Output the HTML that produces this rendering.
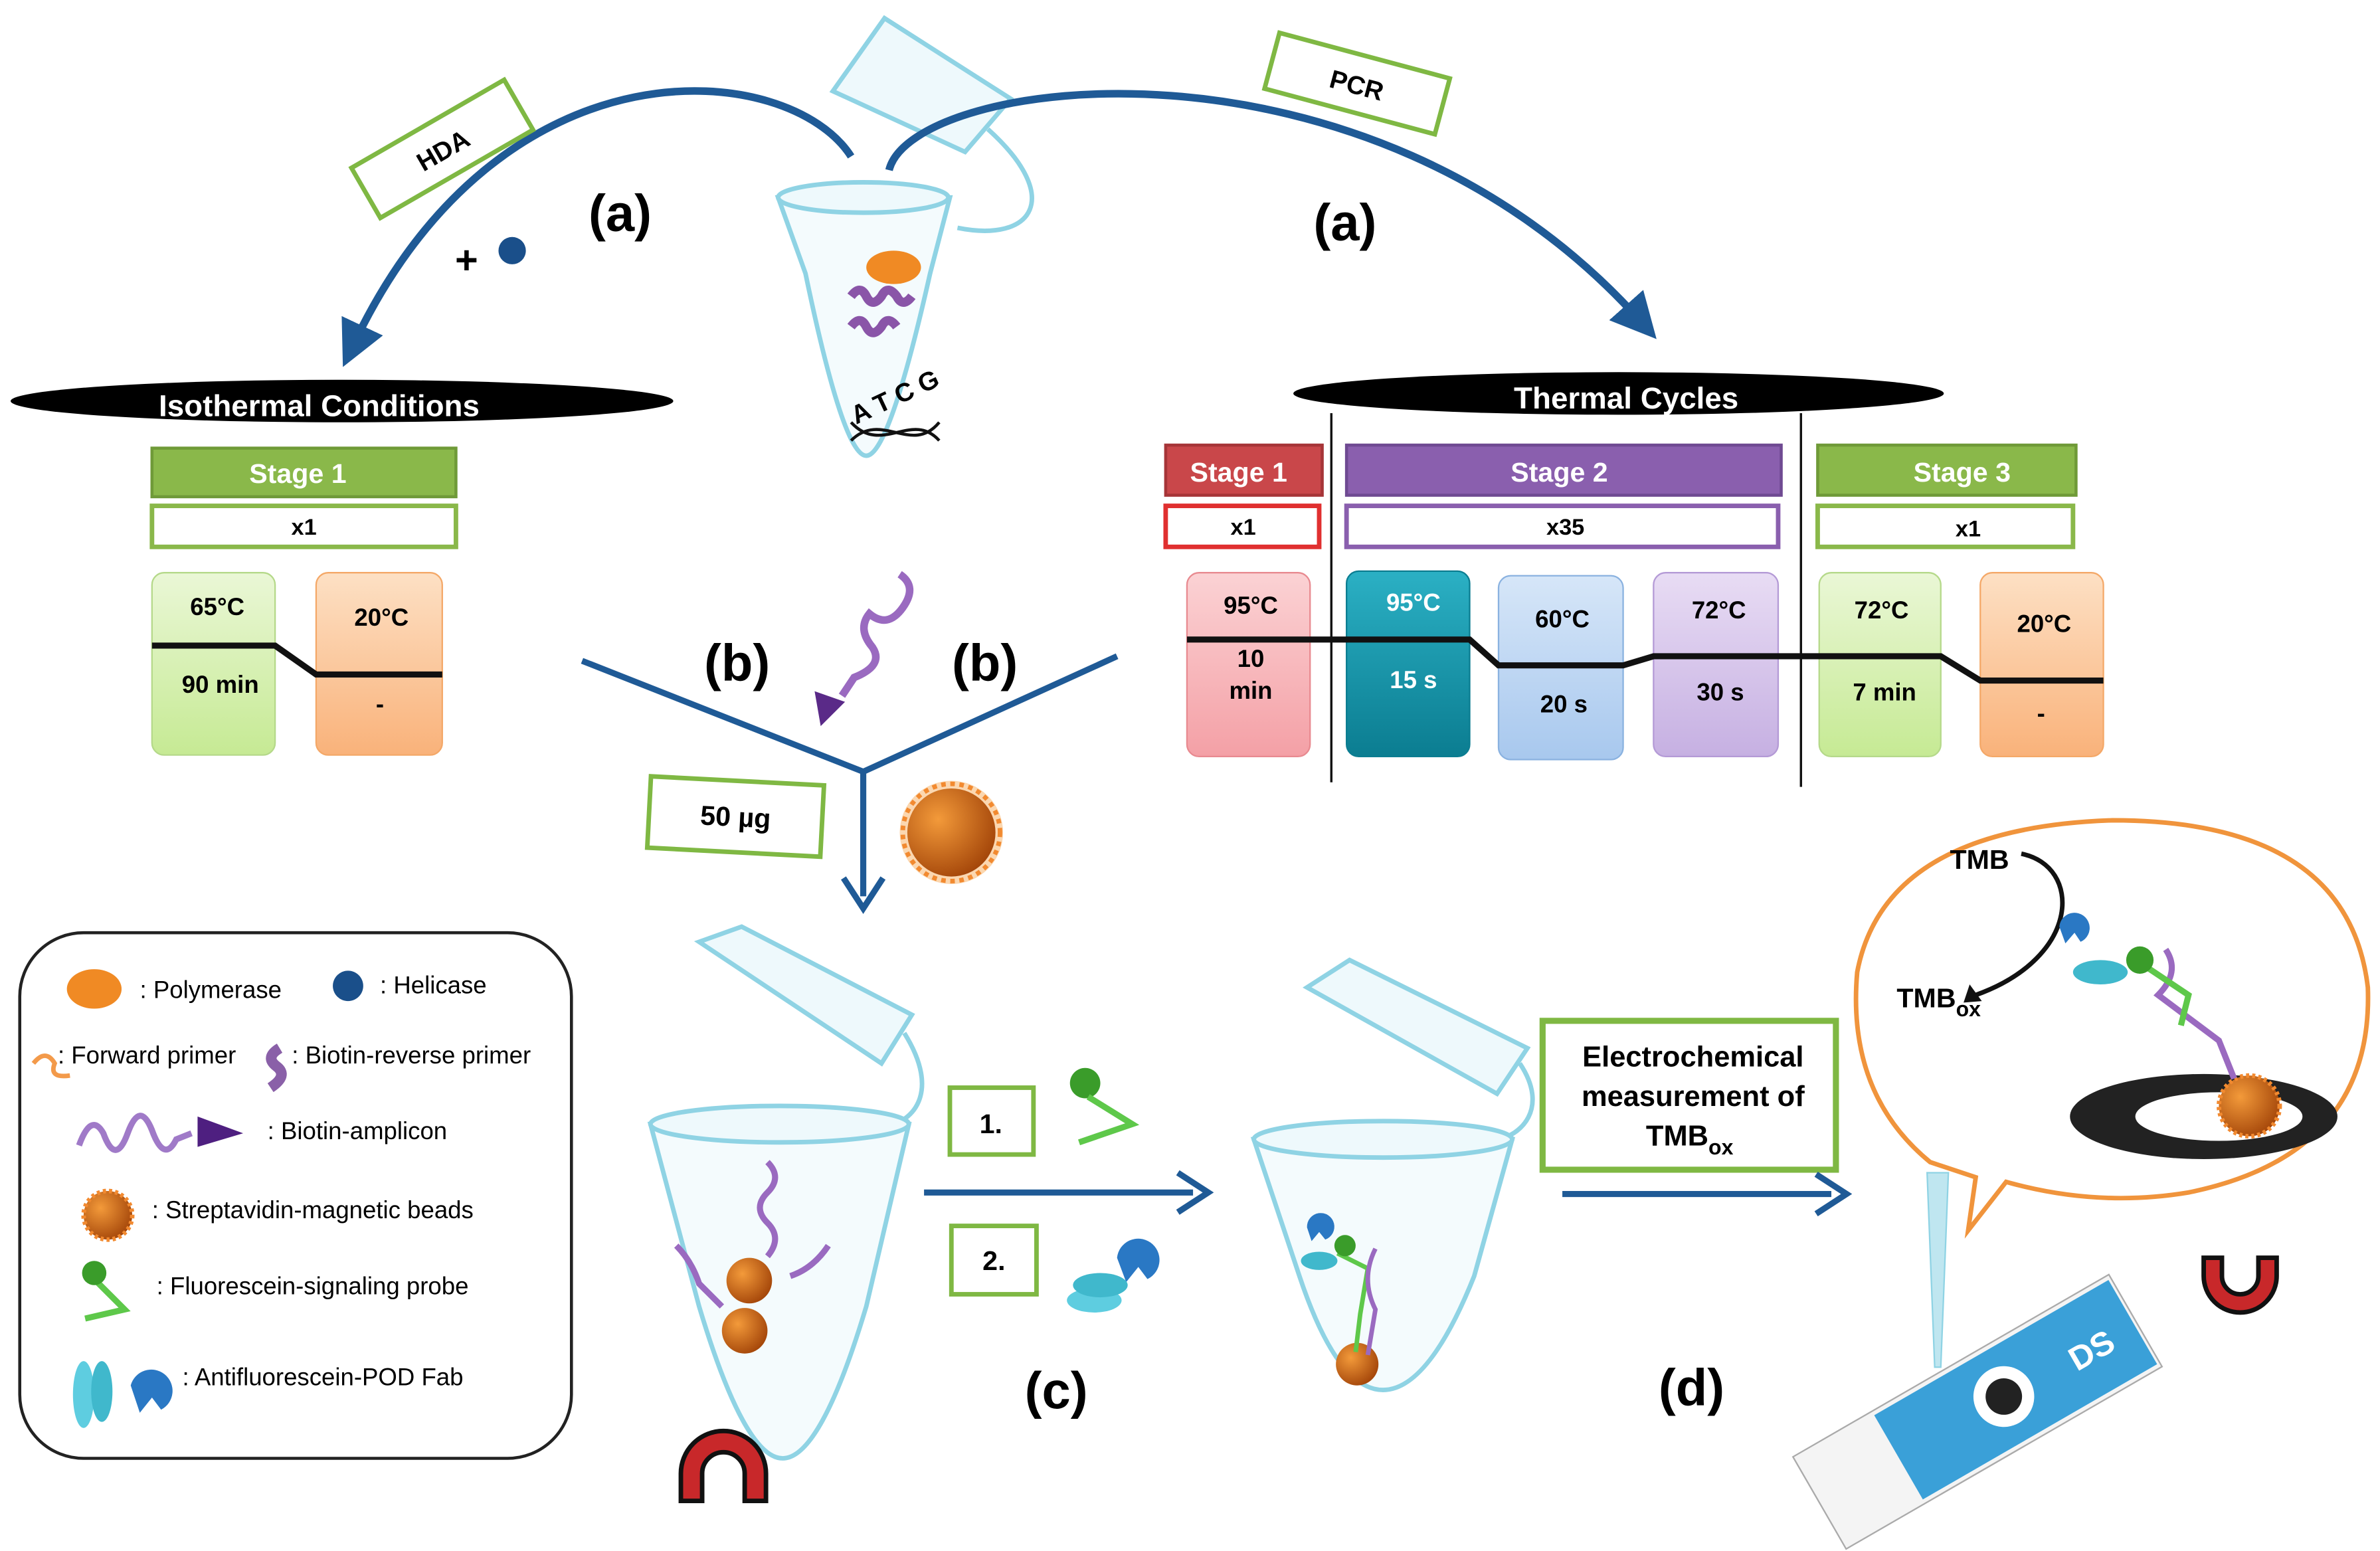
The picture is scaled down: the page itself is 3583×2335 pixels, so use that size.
<!DOCTYPE html>
<html><head><meta charset="utf-8"><style>
html,body{margin:0;padding:0;background:#fff;}
svg{display:block;}
text{font-family:"Liberation Sans",Arial,sans-serif;}
</style></head><body>
<svg width="3583" height="2335" viewBox="0 0 1566 1021" preserveAspectRatio="none" xmlns="http://www.w3.org/2000/svg">
<defs>
<marker id="ah" markerWidth="6" markerHeight="6" refX="3" refY="3" orient="auto" markerUnits="strokeWidth"><path d="M0,0 L6,3 L0,6 z" fill="#1f5a96"/></marker>
<radialGradient id="bead" cx="0.35" cy="0.35" r="0.7"><stop offset="0" stop-color="#f39a3a"/><stop offset="1" stop-color="#a5470a"/></radialGradient>
<linearGradient id="g" x1="0" y1="0" x2="0" y2="1"><stop offset="0" stop-color="#eaf7d6"/><stop offset="1" stop-color="#c6ea94"/></linearGradient>
<linearGradient id="o" x1="0" y1="0" x2="0" y2="1"><stop offset="0" stop-color="#fde0c4"/><stop offset="1" stop-color="#f9b27a"/></linearGradient>
<linearGradient id="p" x1="0" y1="0" x2="0" y2="1"><stop offset="0" stop-color="#fbd2d4"/><stop offset="1" stop-color="#f4a0a6"/></linearGradient>
<linearGradient id="t" x1="0" y1="0" x2="0" y2="1"><stop offset="0" stop-color="#2bb0c4"/><stop offset="1" stop-color="#0b7d91"/></linearGradient>
<linearGradient id="b" x1="0" y1="0" x2="0" y2="1"><stop offset="0" stop-color="#d6e6f8"/><stop offset="1" stop-color="#a8c8ee"/></linearGradient>
<linearGradient id="v" x1="0" y1="0" x2="0" y2="1"><stop offset="0" stop-color="#e8dcf4"/><stop offset="1" stop-color="#c6b0e2"/></linearGradient>
</defs>

<!-- top tube -->
<g fill="none" stroke="#8fd3e4" stroke-width="3">
<path d="M548,60 L582,12 L665,65 L635,100 Z" fill="#eef9fc"/>
<path d="M650,85 C700,130 680,160 630,150"/>
<path d="M512,130 L625,130 L612,180 Q585,300 570,300 Q555,300 530,180 Z" fill="#f4fbfd"/>
<ellipse cx="568" cy="130" rx="56" ry="10" fill="#eef9fc"/>
</g>
<ellipse cx="588" cy="176" rx="18" ry="11" fill="#f08a24"/>
<path d="M560,195 q6,-8 10,0 q4,8 10,0 q4,-8 10,0 q4,8 10,0" stroke="#8a55a8" stroke-width="6" fill="none"/>
<path d="M560,215 q6,-8 10,0 q4,8 10,0 q4,-8 10,0" stroke="#8a55a8" stroke-width="6" fill="none"/>
<text x="555" y="268" font-size="17" font-weight="bold" transform="rotate(-25 585 255)">A T C G</text>
<path d="M560,290 C580,270 600,300 618,278 M560,278 C580,300 600,270 618,290" stroke="#111" stroke-width="2" fill="none"/>

<!-- arcs -->
<path d="M560,103 C520,40 330,20 232,228" stroke="#1f5a96" stroke-width="5" fill="none" marker-end="url(#ah)"/>
<path d="M585,112 C600,50 900,10 1080,212" stroke="#1f5a96" stroke-width="5" fill="none" marker-end="url(#ah)"/>
<g transform="rotate(-30 291 98)"><rect x="233" y="79" width="116" height="38" fill="#fff" stroke="#7fb843" stroke-width="3"/><text x="291" y="105" font-size="17" font-weight="bold" text-anchor="middle">HDA</text></g>
<g transform="rotate(15 893 55)"><rect x="835" y="36" width="116" height="38" fill="#fff" stroke="#7fb843" stroke-width="3"/><text x="893" y="62" font-size="17" font-weight="bold" text-anchor="middle">PCR</text></g>
<text x="408" y="152" font-size="34" font-weight="bold" text-anchor="middle">(a)</text>
<text x="885" y="158" font-size="34" font-weight="bold" text-anchor="middle">(a)</text>
<text x="307" y="180" font-size="26" font-weight="bold" text-anchor="middle">+</text>
<circle cx="337" cy="165" r="9" fill="#1a4f8a"/>

<!-- left conditions -->
<ellipse cx="225" cy="264" rx="218" ry="14" fill="#000"/>
<text x="210" y="274" font-size="20" font-weight="bold" fill="#fff" text-anchor="middle">Isothermal Conditions</text>
<rect x="100" y="295" width="200" height="32" fill="#8ab84a" stroke="#6f9a38" stroke-width="2"/>
<text x="196" y="318" font-size="18" font-weight="bold" fill="#fff" text-anchor="middle">Stage 1</text>
<rect x="100" y="333" width="200" height="27" fill="#fff" stroke="#8ab84a" stroke-width="3"/>
<text x="200" y="352" font-size="15" font-weight="bold" text-anchor="middle">x1</text>
<rect x="100" y="377" width="81" height="120" rx="8" fill="url(#g)" stroke="#b5d98a"/>
<rect x="208" y="377" width="83" height="120" rx="8" fill="url(#o)" stroke="#f4a868"/>
<path d="M100,425 L181,425 L208,444 L291,444" stroke="#111" stroke-width="4" fill="none"/>
<text x="143" y="405" font-size="16" font-weight="bold" text-anchor="middle">65°C</text>
<text x="145" y="456" font-size="16" font-weight="bold" text-anchor="middle">90 min</text>
<text x="251" y="412" font-size="16" font-weight="bold" text-anchor="middle">20°C</text>
<text x="250" y="469" font-size="16" font-weight="bold" text-anchor="middle">-</text>

<!-- right conditions -->
<ellipse cx="1065" cy="259" rx="214" ry="14" fill="#000"/>
<text x="1070" y="269" font-size="20" font-weight="bold" fill="#fff" text-anchor="middle">Thermal Cycles</text>
<line x1="876" y1="272" x2="876" y2="515" stroke="#111" stroke-width="1.5"/>
<line x1="1185" y1="272" x2="1185" y2="518" stroke="#111" stroke-width="1.5"/>
<rect x="767" y="293" width="103" height="33" fill="#c9474a" stroke="#a63538" stroke-width="2"/>
<text x="815" y="317" font-size="18" font-weight="bold" fill="#fff" text-anchor="middle">Stage 1</text>
<rect x="767" y="333" width="101" height="27" fill="#fff" stroke="#e03030" stroke-width="3"/>
<text x="818" y="352" font-size="15" font-weight="bold" text-anchor="middle">x1</text>
<rect x="886" y="293" width="286" height="33" fill="#8a5fae" stroke="#6f4a92" stroke-width="2"/>
<text x="1026" y="317" font-size="18" font-weight="bold" fill="#fff" text-anchor="middle">Stage 2</text>
<rect x="886" y="333" width="284" height="27" fill="#fff" stroke="#8a5fae" stroke-width="3"/>
<text x="1030" y="352" font-size="15" font-weight="bold" text-anchor="middle">x35</text>
<rect x="1196" y="293" width="170" height="33" fill="#8ab84a" stroke="#6f9a38" stroke-width="2"/>
<text x="1291" y="317" font-size="18" font-weight="bold" fill="#fff" text-anchor="middle">Stage 3</text>
<rect x="1196" y="333" width="168" height="27" fill="#fff" stroke="#8ab84a" stroke-width="3"/>
<text x="1295" y="353" font-size="15" font-weight="bold" text-anchor="middle">x1</text>

<rect x="781" y="377" width="81" height="121" rx="8" fill="url(#p)" stroke="#e88a90"/>
<rect x="886" y="376" width="81" height="122" rx="8" fill="url(#t)" stroke="#0b7d91"/>
<rect x="986" y="379" width="82" height="121" rx="8" fill="url(#b)" stroke="#8ab2e0"/>
<rect x="1088" y="377" width="82" height="121" rx="8" fill="url(#v)" stroke="#b49ad6"/>
<rect x="1197" y="377" width="80" height="121" rx="8" fill="url(#g)" stroke="#b5d98a"/>
<rect x="1303" y="377" width="81" height="121" rx="8" fill="url(#o)" stroke="#f4a868"/>
<path d="M781,421 L967,421 L986,438 L1068,438 L1088,432 L1277,432 L1303,448 L1384,448" stroke="#111" stroke-width="4" fill="none"/>
<text x="823" y="404" font-size="16" font-weight="bold" text-anchor="middle">95°C</text>
<text x="823" y="439" font-size="16" font-weight="bold" text-anchor="middle">10</text>
<text x="823" y="460" font-size="16" font-weight="bold" text-anchor="middle">min</text>
<text x="930" y="402" font-size="16" font-weight="bold" fill="#fff" text-anchor="middle">95°C</text>
<text x="930" y="453" font-size="16" font-weight="bold" fill="#fff" text-anchor="middle">15 s</text>
<text x="1028" y="413" font-size="16" font-weight="bold" text-anchor="middle">60°C</text>
<text x="1029" y="469" font-size="16" font-weight="bold" text-anchor="middle">20 s</text>
<text x="1131" y="407" font-size="16" font-weight="bold" text-anchor="middle">72°C</text>
<text x="1132" y="461" font-size="16" font-weight="bold" text-anchor="middle">30 s</text>
<text x="1238" y="407" font-size="16" font-weight="bold" text-anchor="middle">72°C</text>
<text x="1240" y="461" font-size="16" font-weight="bold" text-anchor="middle">7 min</text>
<text x="1345" y="416" font-size="16" font-weight="bold" text-anchor="middle">20°C</text>
<text x="1343" y="475" font-size="16" font-weight="bold" text-anchor="middle">-</text>

<!-- (b) -->
<path d="M383,435 L568,508 L735,432 M568,508 L568,590" stroke="#1f5a96" stroke-width="4" fill="none"/>
<path d="M555,578 L568,598 L581,578" stroke="#1f5a96" stroke-width="4" fill="none"/>
<text x="485" y="448" font-size="34" font-weight="bold" text-anchor="middle">(b)</text>
<text x="648" y="448" font-size="34" font-weight="bold" text-anchor="middle">(b)</text>
<path d="M592,378 q12,8 2,22 q-10,14 -22,4 q-8,10 2,22 q8,12 -12,20 l-8,12" stroke="#9a6ac0" stroke-width="5" fill="none"/>
<path d="M536,455 L556,462 L540,478 Z" fill="#5a2a88"/>
<g transform="rotate(3 484 538)"><rect x="427" y="514" width="114" height="47" fill="#fff" stroke="#7fb843" stroke-width="3"/><text x="484" y="544" font-size="18" font-weight="bold" text-anchor="middle">50 µg</text></g>
<circle cx="626" cy="548" r="34" fill="#fbd7b0"/>
<circle cx="626" cy="548" r="29" fill="url(#bead)"/>
<circle cx="626" cy="548" r="32" fill="none" stroke="#f28a30" stroke-width="3" stroke-dasharray="3 3"/>

<!-- legend -->
<rect x="13" y="614" width="363" height="346" rx="42" fill="#fff" stroke="#222" stroke-width="2"/>
<ellipse cx="62" cy="651" rx="18" ry="13" fill="#f08a24"/>
<text x="92" y="657" font-size="16">: Polymerase</text>
<circle cx="229" cy="649" r="10" fill="#1a4f8a"/>
<text x="250" y="654" font-size="16">: Helicase</text>
<path d="M22,700 q8,-10 14,0 q-4,10 10,8" stroke="#f39a4a" stroke-width="3" fill="none"/>
<text x="38" y="700" font-size="16">: Forward primer</text>
<path d="M184,690 q-10,6 -2,12 q8,6 -4,14" stroke="#8a60a8" stroke-width="7" fill="none"/>
<text x="192" y="700" font-size="16">: Biotin-reverse primer</text>
<path d="M52,754 q8,-22 16,-8 q8,22 16,0 q8,-22 16,-2 q8,22 16,6 l10,-4" stroke="#a07ac8" stroke-width="4" fill="none"/>
<path d="M130,735 L160,746 L130,755 Z" fill="#4e1f80"/>
<text x="176" y="750" font-size="16">: Biotin-amplicon</text>
<circle cx="71" cy="800" r="16" fill="url(#bead)" stroke="#f28a30" stroke-width="3" stroke-dasharray="2 2"/>
<text x="100" y="802" font-size="16">: Streptavidin-magnetic beads</text>
<path d="M64,844 L82,862 L56,868" stroke="#5ec84a" stroke-width="4" fill="none"/>
<circle cx="62" cy="838" r="8" fill="#3a9c2a"/>
<text x="103" y="852" font-size="16">: Fluorescein-signaling probe</text>
<ellipse cx="55" cy="918" rx="7" ry="22" fill="#5ecde0"/>
<ellipse cx="67" cy="916" rx="7" ry="20" fill="#40b8cc"/>
<path d="M86,912 a14,14 0 1 1 20,16 l-6,-8 l-8,10 z" fill="#2a78c4"/>
<text x="120" y="912" font-size="16">: Antifluorescein-POD Fab</text>

<!-- bottom tube 1 -->
<g fill="none" stroke="#8fd3e4" stroke-width="3">
<path d="M460,620 L488,610 L600,668 L580,700 Z" fill="#eef9fc"/>
<path d="M595,680 C620,720 600,740 580,742"/>
<path d="M428,740 L598,740 L570,860 Q540,960 515,960 Q490,960 460,860 Z" fill="#f4fbfd"/>
<ellipse cx="513" cy="740" rx="85" ry="12" fill="#eef9fc"/>
</g>
<circle cx="493" cy="843" r="15" fill="url(#bead)"/>
<circle cx="490" cy="876" r="15" fill="url(#bead)"/>
<path d="M505,765 q10,10 0,20 q-10,10 0,20 q10,10 0,22" stroke="#9a6ac0" stroke-width="4" fill="none"/>
<path d="M445,820 q10,10 15,25 l15,15 M545,820 q-10,15 -25,20" stroke="#9a6ac0" stroke-width="4" fill="none"/>
<path d="M448,970 a28,28 0 0 1 56,0 l0,18 l-14,0 l0,-18 a14,14 0 0 0 -28,0 l0,18 l-14,0 z" fill="#c8282a" stroke="#111" stroke-width="3"/>

<!-- (c) -->
<line x1="608" y1="785" x2="785" y2="785" stroke="#1f5a96" stroke-width="4"/>
<path d="M775,772 L795,785 L775,798" stroke="#1f5a96" stroke-width="4" fill="none"/>
<rect x="625" y="716" width="55" height="44" fill="#fff" stroke="#7fb843" stroke-width="3"/>
<text x="652" y="746" font-size="18" font-weight="bold" text-anchor="middle">1.</text>
<rect x="626" y="807" width="56" height="45" fill="#fff" stroke="#7fb843" stroke-width="3"/>
<text x="654" y="836" font-size="18" font-weight="bold" text-anchor="middle">2.</text>
<circle cx="714" cy="713" r="10" fill="#3a9c2a"/>
<path d="M716,722 L745,740 L710,752" stroke="#5ec84a" stroke-width="4" fill="none"/>
<path d="M735,828 a14,14 0 1 1 20,14 l-6,-8 l-8,10 z" fill="#2a78c4"/>
<ellipse cx="720" cy="856" rx="18" ry="8" fill="#5ecde0"/>
<ellipse cx="724" cy="846" rx="18" ry="8" fill="#40b8cc"/>
<text x="695" y="927" font-size="34" font-weight="bold" text-anchor="middle">(c)</text>

<!-- tube 2 -->
<g fill="none" stroke="#8fd3e4" stroke-width="3">
<path d="M860,650 L888,632 L1005,690 L985,720 Z" fill="#eef9fc"/>
<path d="M1000,700 C1020,730 1000,748 985,750"/>
<path d="M825,750 L995,750 L970,840 Q940,915 910,915 Q880,915 855,840 Z" fill="#f4fbfd"/>
<ellipse cx="910" cy="750" rx="85" ry="12" fill="#eef9fc"/>
</g>
<circle cx="893" cy="898" r="14" fill="url(#bead)"/>
<path d="M880,825 l20,10 l-5,30 l-3,25" stroke="#5ec84a" stroke-width="3" fill="none"/>
<path d="M905,822 q-10,20 0,40 l-5,30" stroke="#9a6ac0" stroke-width="3" fill="none"/>
<circle cx="885" cy="820" r="7" fill="#3a9c2a"/>
<ellipse cx="868" cy="830" rx="12" ry="6" fill="#40b8cc"/>
<path d="M860,808 a9,9 0 1 1 12,8 l-4,-5 l-5,6 z" fill="#2a78c4"/>

<!-- (d) -->
<rect x="1015" y="672" width="193" height="98" fill="#fff" stroke="#7fb843" stroke-width="4"/>
<text x="1114" y="702" font-size="19" font-weight="bold" text-anchor="middle">Electrochemical</text>
<text x="1114" y="728" font-size="19" font-weight="bold" text-anchor="middle">measurement of</text>
<text x="1083" y="754" font-size="19" font-weight="bold">TMB<tspan font-size="14" dy="6">ox</tspan></text>
<line x1="1028" y1="786" x2="1205" y2="786" stroke="#1f5a96" stroke-width="4"/>
<path d="M1195,773 L1215,786 L1195,799" stroke="#1f5a96" stroke-width="4" fill="none"/>
<text x="1113" y="925" font-size="34" font-weight="bold" text-anchor="middle">(d)</text>

<!-- bubble -->
<path d="M1270,765 Q1215,720 1222,640 Q1240,545 1390,540 Q1545,540 1558,650 Q1562,760 1440,785 Q1380,795 1320,778 L1295,810 L1300,775 Z" fill="#fff" stroke="#f0943c" stroke-width="3"/>
<text x="1283" y="572" font-size="18" font-weight="bold">TMB</text>
<path d="M1330,562 C1370,570 1370,630 1300,655" stroke="#111" stroke-width="3" fill="none"/>
<path d="M1296,648 L1292,660 L1304,659 Z" fill="#111"/>
<text x="1248" y="663" font-size="18" font-weight="bold">TMB<tspan font-size="14" dy="6">ox</tspan></text>
<ellipse cx="1450" cy="735" rx="88" ry="28" fill="#222"/>
<ellipse cx="1460" cy="735" rx="55" ry="16" fill="#fff"/>
<circle cx="1480" cy="728" r="20" fill="url(#bead)" stroke="#f28a30" stroke-width="3" stroke-dasharray="2 2"/>
<path d="M1425,625 q10,15 -5,30 l40,30 l10,25" stroke="#9a6ac0" stroke-width="4" fill="none"/>
<path d="M1410,635 l30,20 l-5,20" stroke="#5ec84a" stroke-width="4" fill="none"/>
<circle cx="1408" cy="632" r="9" fill="#3a9c2a"/>
<ellipse cx="1382" cy="640" rx="18" ry="8" fill="#40b8cc"/>
<path d="M1355,610 a10,10 0 1 1 14,10 l-4,-6 l-6,7 z" fill="#2a78c4"/>
<path d="M1450,850 a24,24 0 0 1 48,0 l0,12 l-12,0 l0,-12 a12,12 0 0 0 -24,0 l0,12 l-12,0 z" fill="#c8282a" stroke="#111" stroke-width="3" transform="rotate(180 1474 845)"/>
<!-- pipette & strip -->
<path d="M1268,772 L1282,772 L1277,900 L1273,900 Z" fill="#bfe6f0" stroke="#8fd3e4"/>
<g transform="rotate(-30 1290 930)">
<rect x="1180" y="900" width="240" height="70" fill="#f4f4f4" stroke="#aaa"/>
<rect x="1240" y="903" width="178" height="64" fill="#3aa0d8"/>
<circle cx="1320" cy="935" r="20" fill="#fff"/>
<circle cx="1320" cy="935" r="12" fill="#222"/>
<text x="1370" y="945" font-size="22" font-weight="bold" fill="#fff">DS</text>
</g>
</svg>
</body></html>
